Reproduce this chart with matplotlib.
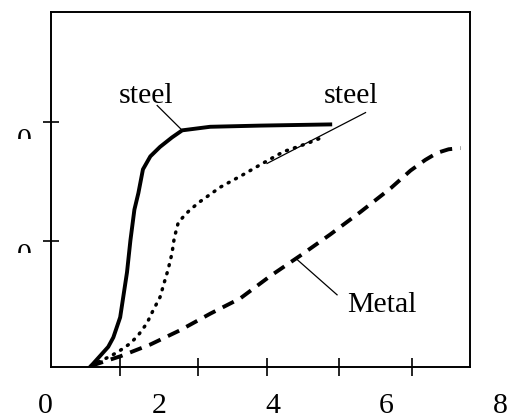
import matplotlib
matplotlib.use("Agg")
import matplotlib.pyplot as plt
from matplotlib.transforms import Bbox, TransformedBbox

plt.rcParams['font.family'] = ['Liberation Serif', 'DejaVu Serif']

# curves
solid_x = [0.79, 0.83, 1.11, 1.20, 1.32, 1.44, 1.50, 1.57, 1.64, 1.72, 1.85,
           2.02, 2.23, 2.41, 2.90, 3.78, 5.01]
solid_y = [0.00, 0.02, 0.17, 0.25, 0.42, 0.80, 1.07, 1.33, 1.47, 1.67, 1.78,
           1.86, 1.94, 2.00, 2.03, 2.04, 2.05]

dot_x = [0.81, 1.18, 1.32, 1.50, 1.64, 1.79, 1.90, 2.02, 2.11, 2.16, 2.23,
         2.27, 2.34, 2.43, 2.55, 2.73, 3.08, 3.46, 3.82, 4.19, 4.61, 4.87]
dot_y = [0.01, 0.10, 0.14, 0.20, 0.27, 0.37, 0.48, 0.59, 0.74, 0.82, 0.96,
         1.09, 1.22, 1.27, 1.33, 1.40, 1.52, 1.62, 1.72, 1.82, 1.89, 1.94]

dash_x = [0.81, 1.32, 1.85, 2.37, 2.90, 3.43, 3.96, 4.48, 5.01, 5.54, 6.07,
          6.42, 6.68, 6.89, 7.09, 7.30]
dash_y = [0.01, 0.09, 0.19, 0.31, 0.45, 0.58, 0.77, 0.94, 1.12, 1.31, 1.51,
          1.66, 1.75, 1.81, 1.84, 1.85]

# axis ticks (unlabelled) and the tick numbers underneath
xtick_pos = [1.32, 2.69, 3.90, 5.17, 6.45]
ytick_pos = [1.065, 2.07]
xnum = [0, 2, 4, 6, 8]
xnum_text = ['0', '2', '4', '6', '8']

W, H = 519, 417
fig = plt.figure(figsize=(W / 100, H / 100), dpi=100)
ax = fig.add_axes([51 / W, 50 / H, 419 / W, 355 / H])
ax.set_xlim(0.105, 7.465)
ax.set_ylim(0, 3.0)

ax.plot(solid_x, solid_y, color='black', lw=2.8, solid_joinstyle='round')
ax.plot(dot_x, dot_y, color='black', lw=2.5, linestyle=(0, (0.3, 2.1)),
        dash_capstyle='round')
ax.plot(dash_x, dash_y, color='black', lw=2.8, linestyle=(0, (3.2, 2.1)))

# labels with leader lines
ax.plot([1.97, 2.41], [2.21, 2.00], color='black', lw=0.9)
ax.text(1.78, 2.231, 'steel', ha='center', va='baseline', fontsize=21.5)

ax.plot([3.90, 5.63], [1.72, 2.15], color='black', lw=0.9)
ax.text(5.38, 2.231, 'steel', ha='center', va='baseline', fontsize=21.5)

ax.plot([4.40, 5.13], [0.92, 0.61], color='black', lw=0.9)
ax.text(5.31, 0.465, 'Metal', ha='left', va='baseline', fontsize=21.5)

for sp in ['top', 'right', 'bottom', 'left']:
    ax.spines[sp].set_linewidth(1.4)

ax.set_xticks(xtick_pos, labels=[])
ax.set_yticks(ytick_pos, labels=[])
ax.tick_params(axis='x', direction='inout', length=13, width=1.2)
ax.tick_params(axis='y', direction='inout', length=11, width=1.2)

for v, s in zip(xnum, xnum_text):
    ax.text(v, -0.389, s, ha='center', va='baseline', fontsize=21.5,
            clip_on=False)

# y numbers are cut off along the bottom
for yb, ycut in [(148, 139), (263, 253)]:
    t = ax.text(-0.36, (367 - yb) / 118.33, '0', ha='center', va='baseline',
                fontsize=21.5, clip_on=True)
    t.set_clip_box(TransformedBbox(Bbox.from_extents(0, (H - ycut) / H,
                                                     51 / W, 1), fig.transFigure))

fig.savefig('out.png', dpi=100)
